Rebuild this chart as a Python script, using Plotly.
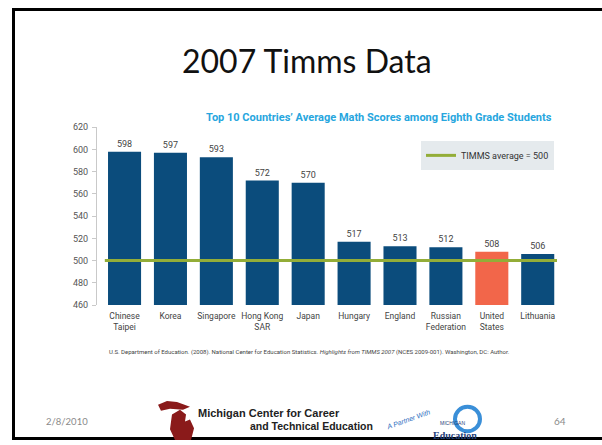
import plotly.graph_objects as go

# TIMSS 2007: top 10 countries, average eighth-grade math scores
countries = ["Chinese<br>Taipei", "Korea", "Singapore", "Hong Kong<br>SAR", "Japan",
             "Hungary", "England", "Russian<br>Federation", "United<br>States", "Lithuania"]
scores = [598, 597, 593, 572, 570, 517, 513, 512, 508, 506]
timms_average = 500
highlight = "United<br>States"

y_ticks = [460, 480, 500, 520, 540, 560, 580, 600, 620]

W, H = 602, 445


def px(x):
    return x / W


def py(y):
    return 1 - y / H


NARROW = "Roboto, Liberation Sans, sans-serif"
ARIAL = "Liberation Sans, Arial, sans-serif"
BLUE = "#0b4c7c"
ORANGE = "#f2664a"
GREEN = "#93ad38"

bar_colors = [ORANGE if c == highlight else BLUE for c in countries]
idx = list(range(len(countries)))

fig = go.Figure()
fig.add_trace(go.Bar(
    x=idx, y=scores,
    marker=dict(color=bar_colors, line=dict(width=0)),
    text=[str(s) for s in scores], textposition="outside",
    textfont=dict(family=NARROW, size=9, color="#444444"),
    cliponaxis=False, showlegend=False, hoverinfo="skip",
))
# legend entry for the average line (the line itself is a shape)
fig.add_trace(go.Scatter(
    x=[None], y=[None], mode="lines",
    line=dict(color=GREEN, width=3),
    name="TIMMS average = 500", showlegend=True,
))

fig.add_shape(type="line", xref="x domain", yref="y",
              x0=0.017, x1=1.0, y0=timms_average, y1=timms_average,
              line=dict(color=GREEN, width=3), layer="above")

# slide frame
fig.add_shape(type="rect", xref="paper", yref="paper",
              x0=px(13.5), x1=px(604), y0=py(4.5), y1=py(443.5),
              line=dict(color="black", width=3), layer="below")


def note(text, x, y, xanchor="center", size=10, color="#222222", family=NARROW, angle=0):
    return dict(text=text, x=px(x), y=py(y), xref="paper", yref="paper",
                xanchor=xanchor, yanchor="middle", showarrow=False, textangle=angle,
                font=dict(family=family, size=size, color=color))


annotations = [
    note("2007 Timms Data", 307, 57, size=32, color="#111111", family="Lato, Open Sans, sans-serif"),
    note("<b>Top 10 Countries\u2019 Average Math Scores among Eighth Grade Students</b>",
         554, 115, xanchor="right", size=11, color="#27a6de"),
    note("U.S. Department of Education. (2008). National Center for Education Statistics. "
         "<i>Highlights from TIMMS 2007</i> (NCES 2009-001). Washington, DC: Author.",
         107, 355, xanchor="left", size=6, color="#444444"),
    note("2/8/2010", 44, 426, xanchor="left", size=9.5, color="#8a8a8a", family="Lato, sans-serif"),
    note("64", 568, 426, xanchor="right", size=10, color="#8a8a8a", family="Lato, sans-serif"),
    note("<b>Michigan Center for Career</b>", 196, 417, xanchor="left", size=11, family=ARIAL),
    note("<b>and Technical Education</b>", 248, 431, xanchor="left", size=10.5, family=ARIAL),
    note("<i>A Partner With</i>", 408, 424, size=7, color="#2f6fc0", family=ARIAL, angle=-20),
    note("MICHIGAN", 452, 428, size=5, color="#1f3f7a", family=ARIAL),
    note("<b>Education</b>", 455, 440, size=10, color="#1f3f7a", family="Liberation Serif, serif"),
]

# Michigan map mark of the logo (upper and lower peninsula)
up = [(158, 409), (167, 405), (177, 406), (190, 411), (183, 414), (170, 413), (161, 415)]
lp = [(172, 419), (180, 414), (186, 419), (185, 426), (190, 424), (194, 433), (191, 445),
      (175, 445), (170, 434), (171, 426)]


def poly(pts):
    return "M " + " L ".join("{:.4f} {:.4f}".format(px(x), py(y)) for x, y in pts) + " Z"


fig.add_shape(type="path", xref="paper", yref="paper", path=poly(up) + " " + poly(lp),
              fillcolor="#8a1a1a", line=dict(width=0), layer="above")
# Education logo swoosh
fig.add_shape(type="circle", xref="paper", yref="paper",
              x0=px(455), x1=px(480), y0=py(436), y1=py(411),
              line=dict(color="#3a8fd8", width=4), layer="below")

fig.update_layout(
    width=W, height=H,
    margin=dict(l=0, r=0, t=0, b=0),
    paper_bgcolor="white", plot_bgcolor="white",
    bargap=0.28,
    annotations=annotations,
    showlegend=True,
    legend=dict(x=px(554), y=py(139), xanchor="right", yanchor="top",
                bgcolor="#e5eaed", borderwidth=0,
                font=dict(family=NARROW, size=9, color="#333333"),
                itemwidth=30, tracegroupgap=0),
    xaxis=dict(domain=[px(97), px(557)], range=[-0.6, 9.42],
               tickmode="array", tickvals=idx, ticktext=countries, tickangle=0,
               showline=False, showgrid=False, zeroline=False, ticks="",
               ticklabelstandoff=4,
               tickfont=dict(family=NARROW, size=8.5, color="#444444")),
    yaxis=dict(domain=[py(307), py(125)], range=[460, 620],
               tickmode="array", tickvals=y_ticks,
               showline=True, linecolor="#c9c9c9", linewidth=1,
               ticks="outside", ticklen=4, tickcolor="#c9c9c9",
               ticklabelstandoff=2,
               showgrid=False, zeroline=False,
               tickfont=dict(family=NARROW, size=9, color="#555555")),
)

fig.write_html("out.html")
